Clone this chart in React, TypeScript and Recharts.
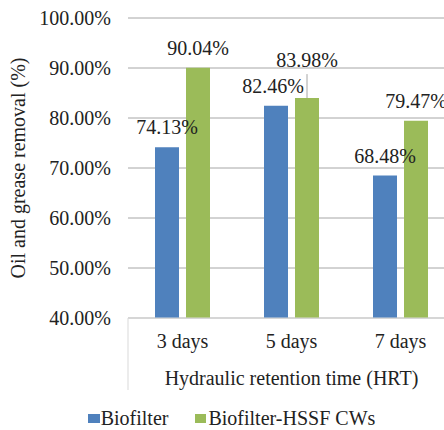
import React from 'react';
import * as R from 'recharts';
import { BarChart, Bar, XAxis, YAxis, CartesianGrid, Legend, LabelList } from 'recharts';

const categories = ['3 days', '5 days', '7 days'];
const biofilterValues = [74.13, 82.46, 68.48];
const hssfValues = [90.04, 83.98, 79.47];
const yTicks = [40, 50, 60, 70, 80, 90, 100];
const seriesNames = ['Biofilter', 'Biofilter-HSSF CWs'];
const xTitle = 'Hydraulic retention time (HRT)';
const yTitle = 'Oil and grease removal (%)';

const data = categories.map((c, i) => ({ hrt: c, biofilter: biofilterValues[i], hssf: hssfValues[i] }));

const BLUE = '#4f81bd';
const GREEN = '#9bbb59';
const FONT = "'Times New Roman', 'Liberation Serif', 'DejaVu Serif', serif";

const usePlotAreaSafe: () => any = (R as any).usePlotArea ?? (() => null);

const LeftBorder = () => {
  const area = usePlotAreaSafe();
  if (!area) return null;
  return (
    <line x1={area.x} x2={area.x} y1={area.y + area.height} y2={area.y + area.height + 72} stroke="#d9d9d9" strokeWidth={1} />
  );
};

const makeLabel = (series: 'b' | 'g') => (props: any) => {
  const { x, y, width, value, index } = props;
  const cx = Number(x) + Number(width) / 2;
  const top = Number(y);
  const raised = series === 'g' && index === 1;
  const shift = series === 'b' && index === 1 ? -3 : 0;
  return (
    <g>
      {raised && <line x1={cx} x2={cx} y1={top - 24} y2={top} stroke="#a6a6a6" strokeWidth={1} />}
      <text x={cx + shift} y={raised ? top - 31 : top - 13} textAnchor="middle" style={{ fontFamily: FONT, fontSize: 20 }} fill="#222">
        {`${Number(value).toFixed(2)}%`}
      </text>
    </g>
  );
};

const renderLegend = () => (
  <div style={{ display: 'flex', justifyContent: 'center', alignItems: 'center', height: 23, fontFamily: FONT, fontSize: 20, color: '#222', paddingLeft: 8 }}>
    <span style={{ display: 'inline-flex', alignItems: 'center', marginRight: 27 }}>
      <span style={{ width: 12, height: 9, background: BLUE, display: 'inline-block', marginRight: 1 }} />
      {seriesNames[0]}
    </span>
    <span style={{ display: 'inline-flex', alignItems: 'center' }}>
      <span style={{ width: 11, height: 9, background: GREEN, display: 'inline-block', marginRight: 2 }} />
      {seriesNames[1]}
    </span>
  </div>
);

export default function App() {
  return (
    <div style={{ position: 'absolute', left: 0, top: 0, width: 444, height: 430, overflow: 'hidden', background: '#fff', fontFamily: FONT }}>
      <BarChart width={460} height={430} data={data} margin={{ top: 18, right: 5, left: 0, bottom: 0 }} barSize={24} barGap={7} style={{ fontFamily: FONT }}>
        <CartesianGrid vertical={false} stroke="#a6a6a6" strokeWidth={1} />
        <YAxis
          domain={[40, 100]}
          ticks={yTicks}
          width={128}
          axisLine={false}
          tickLine={false}
          tickSize={0}
          tickMargin={17}
          tickFormatter={(v: number) => `${v.toFixed(2)}%`}
          tick={{ fontSize: 20, fill: '#222', style: { fontFamily: FONT } }}
          label={{ value: yTitle, angle: -90, position: 'insideLeft', offset: 18, style: { textAnchor: 'middle', fontFamily: FONT, fontSize: 20, fill: '#222' } }}
        />
        <XAxis
          dataKey="hrt"
          height={89}
          axisLine={{ stroke: '#d9d9d9', strokeWidth: 1 }}
          tickLine={false}
          tickSize={0}
          tickMargin={16}
          tick={{ fontSize: 20, fill: '#222', style: { fontFamily: FONT } }}
          label={{ value: xTitle, position: 'insideBottom', offset: 22, style: { fontFamily: FONT, fontSize: 20, fill: '#222' } }}
        />
        <Legend verticalAlign="bottom" height={23} content={renderLegend} />
        <Bar dataKey="biofilter" name={seriesNames[0]} fill={BLUE} isAnimationActive={false}>
          <LabelList dataKey="biofilter" content={makeLabel('b')} />
        </Bar>
        <Bar dataKey="hssf" name={seriesNames[1]} fill={GREEN} isAnimationActive={false}>
          <LabelList dataKey="hssf" content={makeLabel('g')} />
        </Bar>
        <LeftBorder />
      </BarChart>
    </div>
  );
}
